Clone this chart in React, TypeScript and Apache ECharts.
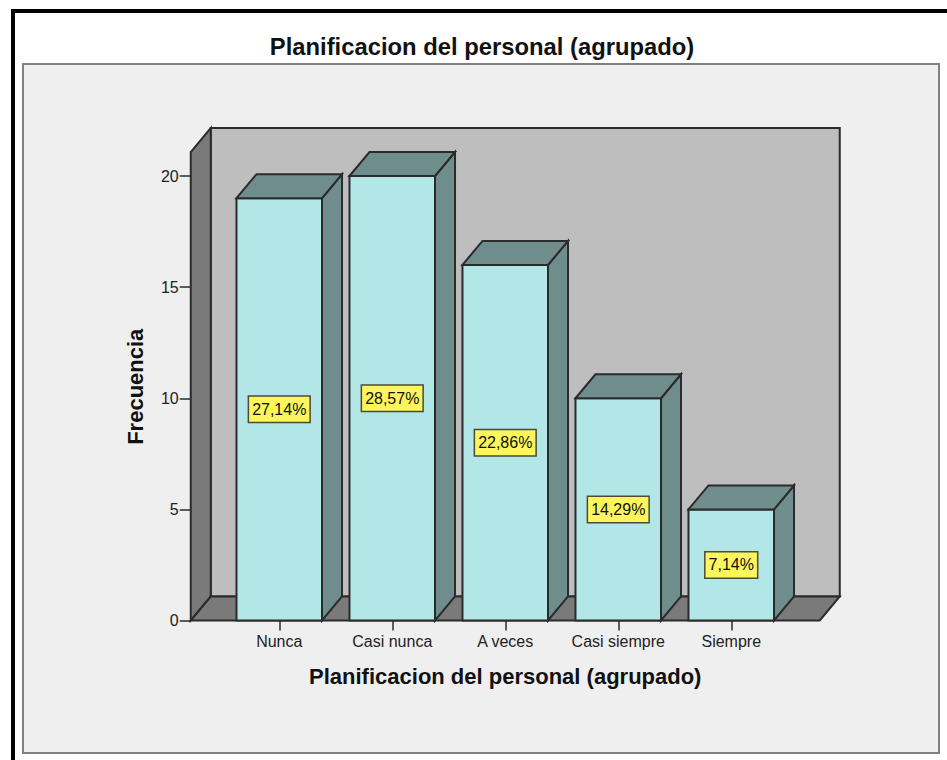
import React, { useEffect, useRef } from "react";
import * as echarts from "echarts";

const categories = ["Nunca", "Casi nunca", "A veces", "Casi siempre", "Siempre"];
const frequencies = [19, 20, 16, 10, 5];
const percentLabels = ["27,14%", "28,57%", "22,86%", "14,29%", "7,14%"];
const yTicks = { min: 0, max: 20, interval: 5 };
const titleText = "Planificacion del personal (agrupado)";
const yTitle = "Frecuencia";

const FONT = "'Liberation Sans', Arial, sans-serif";
const DEPTH_X = 20;
const DEPTH_Y = 24;
const WALL_PAD_LEFT = 32;
const WALL_PAD_RIGHT = 32;
const STROKE = "#2b2b2b";
const LINE = 2;

function renderWalls(params: any, api: any) {
  const first = api.coord([0, 0]);
  const top = api.coord([0, 20]);
  const band = api.size([1, 0])[0];
  const left = first[0] - band / 2 - WALL_PAD_LEFT;
  const right = first[0] + band * 4.5 + WALL_PAD_RIGHT;
  const y0 = first[1];
  const yT = top[1] - DEPTH_Y;
  const dx = DEPTH_X;
  const dy = DEPTH_Y;
  const poly = (pts: number[][], fill: string) => ({
    type: "polygon",
    shape: { points: pts },
    style: { fill, stroke: STROKE, lineWidth: LINE },
  });
  return {
    type: "group",
    children: [
      poly([[left + dx, yT - dy], [right + dx, yT - dy], [right + dx, y0 - dy], [left + dx, y0 - dy]], "#bebebe"),
      poly([[left, y0], [left, yT], [left + dx, yT - dy], [left + dx, y0 - dy]], "#7a7a7a"),
      poly([[left, y0], [right, y0], [right + dx, y0 - dy], [left + dx, y0 - dy]], "#7a7a7a"),
    ],
  };
}

function renderBar(params: any, api: any) {
  const idx = api.value(0);
  const val = api.value(1);
  const base = api.coord([idx, 0]);
  const head = api.coord([idx, val]);
  const mid = api.coord([idx, val / 2]);
  const w = api.size([1, 0])[0] * 0.757;
  const l = base[0] - w / 2;
  const r = base[0] + w / 2;
  const t = head[1];
  const b = base[1];
  const poly = (pts: number[][], fill: string) => ({
    type: "polygon",
    shape: { points: pts },
    style: { fill, stroke: STROKE, lineWidth: LINE },
  });
  return {
    type: "group",
    children: [
      poly([[l, t], [r, t], [r, b], [l, b]], "#b3e6e6"),
      poly([[r, t], [r + DEPTH_X, t - DEPTH_Y], [r + DEPTH_X, b - DEPTH_Y], [r, b]], "#6f8d8d"),
      poly([[l, t], [l + DEPTH_X, t - DEPTH_Y], [r + DEPTH_X, t - DEPTH_Y], [r, t]], "#6f8d8d"),
      {
        type: "text",
        x: base[0],
        y: mid[1],
        style: {
          text: percentLabels[params.dataIndex],
          x: 0,
          y: 0,
          align: "center",
          verticalAlign: "middle",
          font: `16px ${FONT}`,
          fill: "#111111",
          backgroundColor: "#fcf65c",
          borderColor: "#4a4a3a",
          borderWidth: 1.5,
          padding: [5, 3, 4, 3],
        },
      },
    ],
  };
}

export default function App() {
  const ref = useRef<HTMLDivElement>(null);
  useEffect(() => {
    const chart = echarts.init(ref.current!, undefined, { renderer: "svg" });
    chart.setOption({
      animation: false,
      backgroundColor: "#ffffff",
      tooltip: { show: false },
      title: {
        text: titleText,
        left: 477,
        top: 29,
        textAlign: "center",
        textStyle: { fontFamily: FONT, fontSize: 23.8, fontWeight: "bold", color: "#111111" },
      },
      graphic: [
        { type: "rect", z: -10, shape: { x: 23, y: 64, width: 916, height: 689 }, style: { fill: "#efefef", stroke: "#808080", lineWidth: 2 } },
        { type: "line", z: -10, shape: { x1: 13, y1: 760, x2: 13, y2: 11 }, style: { stroke: "#000000", lineWidth: 4 } },
        { type: "line", z: -10, shape: { x1: 11, y1: 11, x2: 947, y2: 11 }, style: { stroke: "#000000", lineWidth: 4 } },
      ],
      grid: { left: 222.75, width: 565, top: 176, height: 444.5 },
      xAxis: {
        type: "category",
        data: categories,
        axisLine: { show: false },
        axisTick: { show: true, alignWithLabel: true, length: 10, lineStyle: { color: STROKE, width: 1.5 } },
        axisLabel: { fontFamily: FONT, fontSize: 16, color: "#222222", margin: 13, interval: 0 },
        name: titleText,
        nameLocation: "middle",
        nameGap: 45,
        nameTextStyle: { fontFamily: FONT, fontSize: 22, fontWeight: "bold", color: "#111111" },
      },
      yAxis: {
        type: "value",
        min: yTicks.min,
        max: yTicks.max,
        interval: yTicks.interval,
        offset: WALL_PAD_LEFT,
        splitLine: { show: false },
        axisLine: { show: false },
        axisTick: { show: true, length: 11, lineStyle: { color: STROKE, width: 1.5 } },
        axisLabel: { fontFamily: FONT, fontSize: 16, color: "#222222", margin: 12 },
        name: yTitle,
        nameLocation: "middle",
        nameRotate: 90,
        nameGap: 44,
        nameTextStyle: { fontFamily: FONT, fontSize: 22, fontWeight: "bold", color: "#111111", padding: [0, 0, 0, 23] },
      },
      series: [
        {
          type: "custom",
          name: "walls",
          silent: true,
          z: 1,
          renderItem: renderWalls,
          data: [[0, 0]],
          encode: { x: 0, y: 1 },
        },
        {
          type: "custom",
          name: "Frecuencia",
          silent: true,
          z: 3,
          renderItem: renderBar,
          data: categories.map((_, i) => [i, frequencies[i]]),
          encode: { x: 0, y: 1 },
        },
      ],
    });
    return () => chart.dispose();
  }, []);
  return <div ref={ref} style={{ position: "absolute", left: 0, top: 0, width: 947, height: 760 }} />;
}
